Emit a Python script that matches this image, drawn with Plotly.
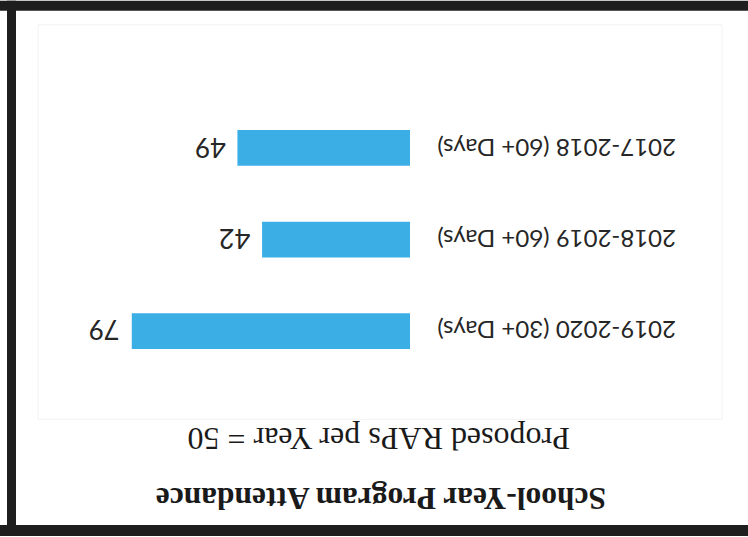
import plotly.graph_objects as go

# Data (the reference photo is rotated 180 degrees)
categories = ["2019-2020 (30+ Days)", "2018-2019 (60+ Days)", "2017-2018 (60+ Days)"]
values = [79, 42, 49]
title_text = "School-Year Program Attendance"
subtitle_text = "Proposed RAPs per Year = 50"

W, H = 748, 537
ML, MR, MT, MB = 86, 338, 101.5, 159.5
PW, PH = W - ML - MR, H - MT - MB

def px(x):
    return (x - ML) / PW

def py(y):
    return (H - MB - y) / PH

bar_color = "#3BAEE6"
text_color = "#262626"

fig = go.Figure()
fig.add_trace(go.Bar(
    y=categories, x=values, orientation="h",
    marker=dict(color=bar_color, line=dict(width=0)),
    hoverinfo="skip",
))

shapes = [
    # faint inner chart-area frame
    dict(type="rect", xref="paper", yref="paper", x0=px(38), x1=px(722), y0=py(24), y1=py(420),
         line=dict(color="#F2F2F2", width=1), fillcolor="rgba(0,0,0,0)", layer="below"),
    # photographed black frame
    dict(type="rect", xref="paper", yref="paper", x0=px(0), x1=px(W), y0=py(0), y1=py(10),
         line=dict(width=0), fillcolor="#1E1E1E"),
    dict(type="rect", xref="paper", yref="paper", x0=px(7), x1=px(16), y0=py(0), y1=py(H),
         line=dict(width=0), fillcolor="#1E1E1E"),
    dict(type="rect", xref="paper", yref="paper", x0=px(0), x1=px(W), y0=py(526), y1=py(H),
         line=dict(width=0), fillcolor="#1E1E1E"),
]

annotations = [
    dict(text="<b>" + title_text + "</b>", xref="paper", yref="paper", x=px(381), y=py(500),
         showarrow=False, textangle=180, xanchor="center", yanchor="middle",
         font=dict(family="Liberation Serif", size=31.5, color="#1A1A1A")),
    dict(text=subtitle_text, xref="paper", yref="paper", x=px(379), y=py(439),
         showarrow=False, textangle=180, xanchor="center", yanchor="middle",
         font=dict(family="Liberation Serif", size=32, color="#1A1A1A")),
]
# category labels (upside-down tick labels) placed on the category axis
for c in categories:
    annotations.append(dict(
        text=c, xref="paper", yref="y", x=px(435), y=c,
        showarrow=False, textangle=180, xanchor="left", yanchor="middle",
        font=dict(family="Lato", size=24, color=text_color)))
# value labels just past each bar end
for c, v in zip(categories, values):
    annotations.append(dict(
        text=str(v), xref="x", yref="y", x=v, y=c, xshift=-10,
        showarrow=False, textangle=180, xanchor="right", yanchor="middle",
        font=dict(family="Lato", size=27, color=text_color)))

fig.update_layout(
    width=W, height=H,
    margin=dict(l=ML, r=MR, t=MT, b=MB, pad=0),
    paper_bgcolor="white", plot_bgcolor="white",
    bargap=0.61, showlegend=False,
    shapes=shapes, annotations=annotations,
    xaxis=dict(range=[92, 0], showgrid=False, zeroline=False, showticklabels=False,
               showline=False, ticks="", fixedrange=True),
    yaxis=dict(showgrid=False, zeroline=False, showline=False, ticks="",
               showticklabels=False, range=[-0.5, 2.5], fixedrange=True),
)

fig.write_html("out.html")
